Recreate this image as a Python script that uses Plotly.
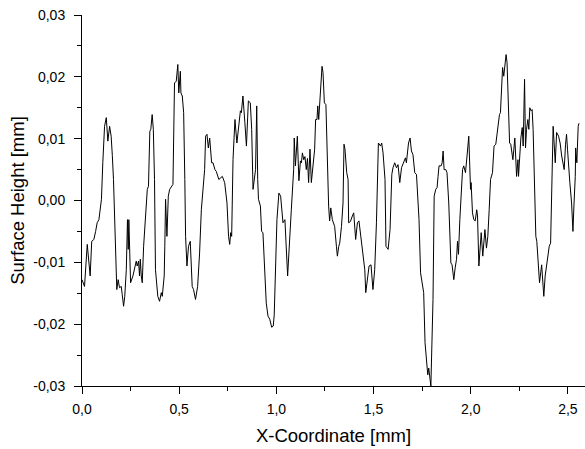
import plotly.graph_objects as go

x_mm = [
    0.000, 0.013, 0.027, 0.042, 0.050, 0.061, 0.070, 0.078, 0.087, 0.094,
    0.100, 0.107, 0.116, 0.125, 0.133, 0.142, 0.150, 0.156, 0.162, 0.179,
    0.186, 0.193, 0.202, 0.207, 0.214, 0.220, 0.228, 0.234, 0.238, 0.241,
    0.250, 0.262, 0.272, 0.279, 0.284, 0.291, 0.296, 0.300, 0.305, 0.310,
    0.317, 0.325, 0.331, 0.336, 0.342, 0.349, 0.354, 0.361, 0.367, 0.373,
    0.378, 0.390, 0.399, 0.408, 0.413, 0.420, 0.423, 0.426, 0.430, 0.437,
    0.444, 0.451, 0.459, 0.468, 0.476, 0.485, 0.493, 0.498, 0.506, 0.509,
    0.516, 0.523, 0.529, 0.533, 0.540, 0.548, 0.557, 0.562, 0.567, 0.574,
    0.584, 0.595, 0.605, 0.614, 0.622, 0.631, 0.636, 0.643, 0.650, 0.657,
    0.667, 0.674, 0.684, 0.691, 0.704, 0.722, 0.734, 0.746, 0.754, 0.760,
    0.765, 0.770, 0.777, 0.787, 0.797, 0.806, 0.815, 0.820, 0.828, 0.838,
    0.846, 0.856, 0.866, 0.873, 0.880, 0.893, 0.899, 0.904, 0.908, 0.918,
    0.924, 0.931, 0.940, 0.948, 0.957, 0.966, 0.976, 0.984, 0.989, 0.995,
    1.003, 1.013, 1.022, 1.034, 1.044, 1.058, 1.069, 1.077, 1.089, 1.092,
    1.098, 1.108, 1.116, 1.124, 1.129, 1.134, 1.141, 1.147, 1.154, 1.160,
    1.166, 1.173, 1.180, 1.188, 1.197, 1.202, 1.209, 1.213, 1.218, 1.224,
    1.230, 1.235, 1.240, 1.247, 1.255, 1.263, 1.269, 1.274, 1.280, 1.288,
    1.300, 1.309, 1.314, 1.321, 1.326, 1.335, 1.343, 1.348, 1.353, 1.362,
    1.369, 1.372, 1.381, 1.391, 1.398, 1.408, 1.417, 1.425, 1.434, 1.441,
    1.450, 1.455, 1.460, 1.467, 1.477, 1.487, 1.497, 1.506, 1.515, 1.525,
    1.536, 1.542, 1.549, 1.559, 1.564, 1.575, 1.585, 1.594, 1.600, 1.609,
    1.618, 1.626, 1.635, 1.644, 1.656, 1.664, 1.669, 1.680, 1.688, 1.695,
    1.703, 1.712, 1.721, 1.734, 1.742, 1.752, 1.758, 1.765, 1.779, 1.784,
    1.795, 1.806, 1.812, 1.820, 1.827, 1.832, 1.837, 1.848, 1.853, 1.858,
    1.863, 1.872, 1.878, 1.887, 1.898, 1.904, 1.913, 1.920, 1.927, 1.932,
    1.937, 1.944, 1.953, 1.958, 1.964, 1.973, 1.981, 1.990, 1.995, 1.999,
    2.002, 2.009, 2.016, 2.023, 2.031, 2.035, 2.042, 2.054, 2.062, 2.073,
    2.081, 2.088, 2.095, 2.102, 2.112, 2.120, 2.129, 2.138, 2.148, 2.153,
    2.159, 2.164, 2.170, 2.176, 2.182, 2.187, 2.195, 2.200, 2.206, 2.212,
    2.217, 2.222, 2.227, 2.236, 2.243, 2.246, 2.253, 2.258, 2.265, 2.270,
    2.277, 2.282, 2.287, 2.294, 2.299, 2.304, 2.311, 2.316, 2.321, 2.329,
    2.335, 2.340, 2.347, 2.354, 2.365, 2.370, 2.376, 2.383, 2.393, 2.404,
    2.411, 2.421, 2.424, 2.435, 2.442, 2.452, 2.460, 2.468, 2.476, 2.481,
    2.488, 2.493, 2.498, 2.505, 2.510, 2.519, 2.526, 2.531, 2.538, 2.540,
    2.546, 2.553, 2.557,
]

height_mm = [
    -0.0128, -0.0139, -0.0071, -0.0122, -0.0066, -0.0063, -0.0050, -0.0036, -0.0031, -0.0015,
    0.0002, 0.0061, 0.0120, 0.0134, 0.0096, 0.0120, 0.0104, 0.0073, 0.0034, -0.0144,
    -0.0128, -0.0141, -0.0139, -0.0152, -0.0171, -0.0155, -0.0112, -0.0031, -0.0079, -0.0031,
    -0.0133, -0.0122, -0.0106, -0.0098, -0.0106, -0.0098, -0.0122, -0.0095, -0.0122, -0.0133,
    -0.0074, -0.0031, -0.0015, 0.0018, 0.0023, 0.0112, 0.0115, 0.0139, 0.0115, 0.0034,
    -0.0112, -0.0155, -0.0163, -0.0149, -0.0155, -0.0133, -0.0122, -0.0074, 0.0002, -0.0058,
    0.0007, 0.0018, 0.0023, 0.0026, 0.0190, 0.0193, 0.0220, 0.0174, 0.0209, 0.0174,
    0.0169, 0.0142, 0.0034, -0.0058, -0.0106, -0.0074, -0.0066, -0.0106, -0.0139, -0.0144,
    -0.0160, -0.0139, -0.0085, -0.0015, 0.0023, 0.0050, 0.0104, 0.0107, 0.0085, 0.0101,
    0.0061, 0.0061, 0.0050, 0.0047, 0.0034, 0.0039, 0.0029, -0.0004, -0.0058, -0.0071,
    -0.0052, -0.0058, 0.0066, 0.0131, 0.0093, 0.0126, 0.0145, 0.0142, 0.0169, 0.0126,
    0.0088, 0.0161, 0.0158, 0.0115, 0.0018, 0.0050, 0.0153, 0.0034, 0.0002, -0.0009,
    -0.0050, -0.0052, -0.0112, -0.0166, -0.0187, -0.0192, -0.0205, -0.0203, -0.0185, -0.0112,
    -0.0031, 0.0012, 0.0007, -0.0036, -0.0031, -0.0122, -0.0069, -0.0015, 0.0050, 0.0101,
    0.0056, 0.0104, 0.0032, 0.0064, 0.0061, 0.0077, 0.0066, 0.0071, 0.0050, 0.0068,
    0.0029, 0.0083, 0.0029, 0.0056, 0.0083, 0.0131, 0.0131, 0.0153, 0.0131, 0.0161,
    0.0190, 0.0217, 0.0207, 0.0158, 0.0155, 0.0034, -0.0009, -0.0033, -0.0012, -0.0031,
    -0.0042, -0.0074, -0.0090, -0.0074, -0.0069, -0.0042, -0.0004, 0.0091, 0.0083, 0.0045,
    0.0034, -0.0036, -0.0034, -0.0025, -0.0020, -0.0063, -0.0036, -0.0033, -0.0058, -0.0074,
    -0.0106, -0.0112, -0.0149, -0.0128, -0.0106, -0.0104, -0.0144, -0.0112, -0.0036, 0.0093,
    0.0088, 0.0093, 0.0077, 0.0034, -0.0074, -0.0079, -0.0047, 0.0042, 0.0053, 0.0061,
    0.0053, 0.0058, 0.0029, 0.0053, 0.0061, 0.0069, 0.0061, 0.0093, 0.0101, 0.0080,
    0.0074, 0.0045, 0.0042, -0.0031, -0.0117, -0.0141, -0.0149, -0.0230, -0.0282, -0.0271,
    -0.0300, -0.0160, 0.0007, 0.0018, 0.0021, 0.0039, 0.0056, 0.0056, 0.0061, 0.0080,
    0.0050, 0.0050, 0.0045, -0.0004, -0.0101, -0.0104, -0.0128, -0.0109, -0.0095, -0.0066,
    -0.0087, -0.0031, 0.0039, 0.0050, 0.0056, 0.0045, 0.0072, 0.0104, 0.0056, 0.0018,
    0.0029, -0.0020, -0.0031, -0.0033, -0.0015, -0.0025, -0.0106, -0.0052, -0.0090, -0.0047,
    -0.0077, -0.0058, -0.0015, 0.0034, 0.0045, 0.0088, 0.0091, 0.0115, 0.0139, 0.0142,
    0.0182, 0.0215, 0.0201, 0.0223, 0.0236, 0.0223, 0.0137, 0.0093, 0.0091, 0.0077,
    0.0066, 0.0083, 0.0101, 0.0039, 0.0066, 0.0039, 0.0083, 0.0101, 0.0118, 0.0088,
    0.0196, 0.0085, 0.0115, 0.0131, 0.0115, 0.0150, 0.0145, 0.0147, 0.0115, 0.0034,
    -0.0058, -0.0066, -0.0101, -0.0133, -0.0104, -0.0125, -0.0155, -0.0122, -0.0101, -0.0074,
    -0.0069, 0.0050, 0.0120, 0.0061, 0.0110, 0.0104, 0.0093, 0.0072, 0.0053, 0.0050,
    0.0091, 0.0107, 0.0083, 0.0045, 0.0029, -0.0004, -0.0050, -0.0009, 0.0039, 0.0085,
    0.0061, 0.0120, 0.0125,
]

x_tick_vals = [0.0, 0.5, 1.0, 1.5, 2.0, 2.5]
x_tick_text = ["0,0", "0,5", "1,0", "1,5", "2,0", "2,5"]
y_tick_vals = [-0.03, -0.02, -0.01, 0.0, 0.01, 0.02, 0.03]
y_tick_text = ["-0,03", "-0,02", "-0,01", "0,00", "0,01", "0,02", "0,03"]

FONT = "Liberation Sans, Arial, sans-serif"

fig = go.Figure()
fig.add_trace(go.Scatter(
    x=x_mm, y=height_mm, mode="lines",
    line=dict(color="black", width=1),
    showlegend=False, hoverinfo="skip",
))

axis_common = dict(
    showgrid=False, zeroline=False, showline=True, linecolor="black", linewidth=1,
    ticks="outside", tickcolor="black", ticklen=7, tickwidth=1,
    tickfont=dict(family=FONT, size=14, color="black"),
    mirror=False,
)

fig.update_xaxes(
    **axis_common,
    range=[0, 2.588],
    tickvals=x_tick_vals, ticktext=x_tick_text,
    ticklabelstandoff=3,
    minor=dict(ticks="outside", ticklen=4, tickcolor="black", tickwidth=1, dtick=0.25, tick0=0, showgrid=False),
    title=dict(text="X-Coordinate [mm]", font=dict(family=FONT, size=18.5, color="black"), standoff=13),
)
fig.update_yaxes(
    **axis_common,
    range=[-0.03, 0.03],
    tickvals=y_tick_vals, ticktext=y_tick_text,
    ticklabelstandoff=6,
    minor=dict(ticks="outside", ticklen=4, tickcolor="black", tickwidth=1, dtick=0.005, tick0=0, showgrid=False),
    title=dict(text="Surface Height [mm]", font=dict(family=FONT, size=18.5, color="black"), standoff=3),
)

fig.update_layout(
    width=585, height=449,
    margin=dict(l=82, r=0, t=15, b=63, pad=0),
    paper_bgcolor="white", plot_bgcolor="white",
    font=dict(family=FONT, color="black"),
)

fig.write_html(
    "out.html",
    config={"displayModeBar": False},
    post_script="document.body.style.margin='0';document.body.style.padding='0';document.body.style.overflow='hidden';",
)
